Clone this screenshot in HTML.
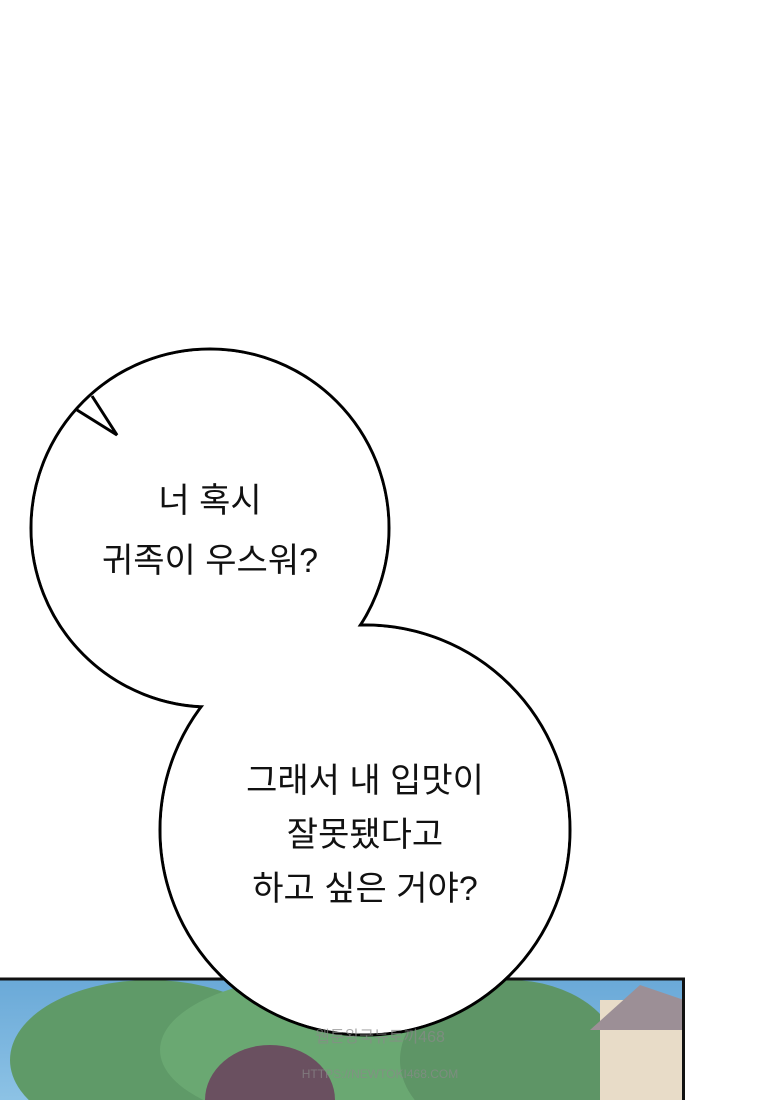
<!DOCTYPE html>
<html><head><meta charset="utf-8"><style>
html,body{margin:0;padding:0;background:#fff;width:760px;height:1100px;overflow:hidden}
</style></head><body>
<svg width="760" height="1100" viewBox="0 0 760 1100" xmlns="http://www.w3.org/2000/svg">
<defs>
<linearGradient id="sky" x1="0" y1="0" x2="0" y2="1"><stop offset="0" stop-color="#6aa9d8"/><stop offset="1" stop-color="#8fc4e6"/></linearGradient>
</defs>
<!-- bottom panel -->
<rect x="0" y="979" width="684" height="130" fill="url(#sky)"/>
<ellipse cx="150" cy="1060" rx="140" ry="80" fill="#5f9a68"/>
<ellipse cx="330" cy="1050" rx="170" ry="75" fill="#6aa872"/>
<ellipse cx="510" cy="1060" rx="110" ry="80" fill="#5e9566"/>
<rect x="600" y="1000" width="84" height="100" fill="#e8dcc8"/>
<path d="M590 1030 L640 985 L684 1000 L684 1030 Z" fill="#9c8f96"/>
<ellipse cx="270" cy="1100" rx="65" ry="55" fill="#6a5060"/>
<rect x="0" y="977.5" width="684" height="3" fill="#111"/>
<rect x="682" y="977.5" width="3" height="130" fill="#111"/>
<!-- bubble -->
<g stroke="#000" stroke-width="3" fill="#fff">
<circle cx="210" cy="528" r="179"/>
<circle cx="365" cy="830" r="205"/>
</g>
<circle cx="210" cy="528" r="177.5" fill="#fff"/>
<circle cx="365" cy="830" r="203.5" fill="#fff"/>
<path d="M78 410 L96 420 L118 436 L100 400 Z" fill="#fff"/>
<path d="M77 410 L117 435 L92 396" fill="none" stroke="#000" stroke-width="3"/>
<g font-family="'Liberation Sans','Noto Sans CJK KR',sans-serif" font-size="34" fill="#111" text-anchor="middle">
<text x="210" y="512">너 혹시</text>
<text x="210" y="572">귀족이 우스워?</text>
<text x="365" y="792">그래서 내 입맛이</text>
<text x="365" y="846">잘못됐다고</text>
<text x="365" y="900">하고 싶은 거야?</text>
</g>
<g font-family="'Liberation Sans','Noto Sans CJK KR',sans-serif" font-size="16" fill="#8a8a8a" text-anchor="middle" opacity="0.7">
<text x="380" y="1042">웹툰왕국뉴토끼468</text>
<text x="380" y="1078" font-size="12">HTTPS://NEWTOKI468.COM</text>
</g>
</svg>
</body></html>
